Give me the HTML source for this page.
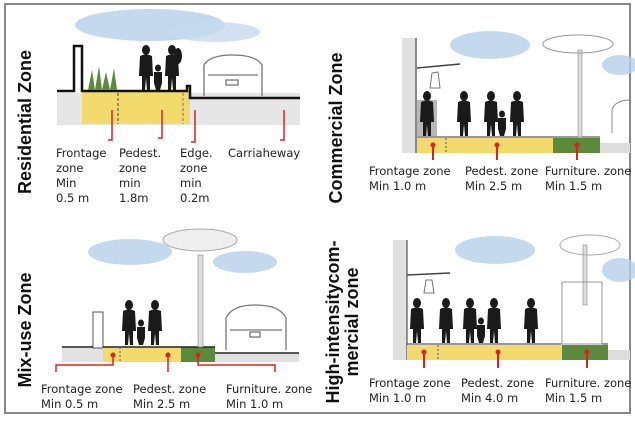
<!DOCTYPE html>
<html><head><meta charset="utf-8"><style>
html,body{margin:0;padding:0;background:#fff}
svg{display:block}
text{font-family:"DejaVu Sans","Liberation Sans",sans-serif;font-size:11.5px;fill:#222}
.t{font-family:"Liberation Sans",sans-serif;font-weight:bold;font-size:18px;fill:#111}
</style></head><body>
<svg width="635" height="423" viewBox="0 0 635 423" xmlns="http://www.w3.org/2000/svg">
<defs>
<g id="p1"><ellipse cx="0" cy="-40" rx="4" ry="5" fill="#1a1a1a"/><path d="M-6,-34 Q0,-37 6,-34 L7,-14 L4,-14 L4,0 L1,0 L0,-12 L-1,0 L-4,0 L-4,-14 L-7,-14 Z" fill="#1a1a1a"/></g>
<g id="kid"><ellipse cx="0" cy="-22" rx="3" ry="3.5" fill="#1a1a1a"/><path d="M-4,-18 L4,-18 L4,-7 L2,0 L-2,0 L-4,-7 Z" fill="#1a1a1a"/></g>
</defs>
<rect x="5" y="4" width="625" height="409" fill="none" stroke="#888" stroke-width="2"/>

<!-- TL Residential -->
<ellipse cx="150" cy="25" rx="75" ry="16" fill="#b7d0ea" opacity="0.8"/>
<ellipse cx="215" cy="32" rx="45" ry="10" fill="#c6daee" opacity="0.8"/>
<rect x="57" y="93" width="243" height="32" fill="#e6e6e6"/>
<rect x="82" y="92" width="108" height="32" fill="#f3da6c"/>
<line x1="118" y1="93" x2="118" y2="124" stroke="#444" stroke-dasharray="3,2"/>
<line x1="183" y1="93" x2="183" y2="124" stroke="#777" stroke-dasharray="3,2"/>
<polyline points="57,91 74,91 74,46 82,46 82,91 187,91 187,86 190,86 190,98 300,98" fill="none" stroke="#111" stroke-width="2.5"/>
<g fill="#5d8a3c"><path d="M88,90 L92,70 L95,90 L99,66 L102,90 L106,72 L110,90 L114,68 L117,90 Z"/></g>
<use href="#p1" x="146" y="90"/><use href="#kid" x="158" y="90"/><use href="#p1" x="172" y="90" transform="scale(1)"/>
<ellipse cx="178" cy="56" rx="4" ry="8" fill="#1a1a1a"/>
<g fill="none" stroke="#777" stroke-width="1.3"><path d="M204,96 L204,65 Q210,55 232,55 Q256,55 262,65 L262,96"/><path d="M208,75 L258,75"/><rect x="226" y="80" width="12" height="5"/></g>
<g stroke="#e02020" stroke-width="1.5" fill="none"><polyline points="112,110 112,140 108,140"/><polyline points="162,110 162,138 158,138"/><polyline points="195,110 195,142 191,142"/><polyline points="284,110 284,140 280,140"/></g>
<text x="56" y="157">Frontage</text><text x="56" y="172">zone</text><text x="56" y="187">Min</text><text x="56" y="202">0.5 m</text>
<text x="119" y="157">Pedest.</text><text x="119" y="172">zone</text><text x="119" y="187">min</text><text x="119" y="202">1.8m</text>
<text x="180" y="157">Edge.</text><text x="180" y="172">zone</text><text x="180" y="187">min</text><text x="180" y="202">0.2m</text>
<text x="228" y="157">Carriaheway</text>
<text class="t" transform="translate(31,122) rotate(-90)" text-anchor="middle">Residential Zone</text>

<!-- TR Commercial -->
<ellipse cx="490" cy="45" rx="40" ry="14" fill="#b7d0ea" opacity="0.8"/>
<ellipse cx="620" cy="65" rx="18" ry="10" fill="#b7d0ea" opacity="0.8"/>
<rect x="402" y="38" width="15" height="115" fill="#e0e0e0"/>
<line x1="416" y1="38" x2="416" y2="153" stroke="#333"/>
<rect x="417" y="138" width="136" height="15" fill="#f3da6c"/>
<rect x="553" y="138" width="47" height="15" fill="#5b8a3a"/>
<rect x="600" y="143" width="30" height="10" fill="#ddd"/>
<line x1="417" y1="137" x2="600" y2="137" stroke="#333"/>
<line x1="446" y1="138" x2="446" y2="153" stroke="#555" stroke-dasharray="2,2"/>
<line x1="417" y1="68" x2="460" y2="64" stroke="#444" stroke-width="1.5"/>
<path d="M432,73 L438,72 L440,88 L430,88 Z" fill="none" stroke="#777"/>
<rect x="578" y="50" width="4" height="87" fill="#ddd" stroke="#888" stroke-width="0.6"/>
<ellipse cx="578" cy="44" rx="35" ry="9" fill="none" stroke="#999"/>
<path d="M415,100 L437,100 L437,136 L415,136 Z" fill="#888" opacity="0.6"/>
<use href="#p1" x="427" y="136"/><use href="#p1" x="464" y="136"/><use href="#p1" x="491" y="136"/><use href="#kid" x="502" y="136"/><use href="#p1" x="517" y="136"/>
<g stroke="#888" fill="none"><path d="M612,133 L612,110 Q615,100 630,100"/></g>
<g stroke="#e02020" stroke-width="2"><line x1="433" y1="144" x2="433" y2="160"/><line x1="497" y1="144" x2="497" y2="160"/><line x1="577" y1="144" x2="577" y2="160"/></g>
<g fill="#e02020"><circle cx="433" cy="145" r="2.5"/><circle cx="497" cy="145" r="2.5"/><circle cx="577" cy="145" r="2.5"/></g>
<text x="369" y="175">Frontage zone</text><text x="369" y="190">Min 1.0 m</text>
<text x="465" y="175">Pedest. zone</text><text x="465" y="190">Min 2.5 m</text>
<text x="545" y="175">Furniture. zone</text><text x="545" y="190">Min 1.5 m</text>
<text class="t" transform="translate(342,128) rotate(-90)" text-anchor="middle">Commercial Zone</text>

<!-- BL Mix-use -->
<ellipse cx="130" cy="252" rx="42" ry="13" fill="#b7d0ea" opacity="0.8"/>
<ellipse cx="245" cy="262" rx="32" ry="11" fill="#b7d0ea" opacity="0.8"/>
<rect x="62" y="348" width="41" height="14" fill="#e2e2e2"/>
<rect x="93" y="312" width="10" height="36" fill="#fff" stroke="#555"/>
<rect x="103" y="347" width="78" height="15" fill="#f3da6c"/>
<rect x="181" y="347" width="34" height="15" fill="#5b8a3a"/>
<rect x="215" y="353" width="84" height="9" fill="#e0e0e0"/>
<polyline points="62,347 93,347" stroke="#222" stroke-width="1.5"/>
<line x1="103" y1="347" x2="215" y2="347" stroke="#222" stroke-width="1.5"/>
<line x1="215" y1="353" x2="299" y2="353" stroke="#222" stroke-width="1.5"/>
<line x1="120" y1="347" x2="120" y2="362" stroke="#555" stroke-dasharray="2,2"/>
<rect x="198" y="255" width="5" height="92" fill="#ddd" stroke="#888" stroke-width="0.6"/>
<ellipse cx="200" cy="240" rx="37" ry="11" fill="#eee" stroke="#aaa"/>
<use href="#p1" x="129" y="345"/><use href="#kid" x="141" y="345"/><use href="#p1" x="155" y="345"/>
<g fill="none" stroke="#777" stroke-width="1.3"><path d="M226,350 L226,318 Q232,305 255,305 Q280,305 286,318 L286,350"/><path d="M230,330 L282,330"/><rect x="250" y="332" width="10" height="5"/></g>
<g stroke="#e02020" stroke-width="1.5" fill="none"><polyline points="56,372 56,365 113,365 113,355"/><polyline points="168,355 168,372"/><polyline points="198,355 198,365 275,365 275,372"/></g>
<g fill="#e02020"><circle cx="113" cy="355" r="2.5"/><circle cx="168" cy="355" r="2.5"/><circle cx="198" cy="355" r="2.5"/></g>
<text x="41" y="393">Frontage zone</text><text x="41" y="408">Min 0.5 m</text>
<text x="133" y="393">Pedest. zone</text><text x="133" y="408">Min 2.5 m</text>
<text x="226" y="393">Furniture. zone</text><text x="226" y="408">Min 1.0 m</text>
<text class="t" transform="translate(31,330) rotate(-90)" text-anchor="middle">Mix-use Zone</text>

<!-- BR High-intensity -->
<ellipse cx="495" cy="250" rx="40" ry="14" fill="#b7d0ea" opacity="0.8"/>
<ellipse cx="620" cy="270" rx="18" ry="12" fill="#b7d0ea" opacity="0.8"/>
<rect x="393" y="240" width="14" height="120" fill="#e0e0e0"/>
<line x1="407" y1="240" x2="407" y2="360" stroke="#333"/>
<rect x="407" y="345" width="155" height="15" fill="#f3da6c"/>
<rect x="562" y="345" width="46" height="15" fill="#5b8a3a"/>
<rect x="608" y="350" width="22" height="10" fill="#ddd"/>
<line x1="407" y1="344" x2="608" y2="344" stroke="#333"/>
<line x1="438" y1="345" x2="438" y2="360" stroke="#555" stroke-dasharray="2,2"/>
<line x1="407" y1="275" x2="450" y2="273" stroke="#444" stroke-width="1.5"/>
<path d="M426,280 L432,280 L434,293 L424,293 Z" fill="none" stroke="#777"/>
<rect x="583" y="245" width="4" height="60" fill="#ddd" stroke="#888" stroke-width="0.6"/>
<ellipse cx="590" cy="245" rx="30" ry="10" fill="none" stroke="#aaa"/>
<rect x="562" y="282" width="40" height="62" fill="none" stroke="#999"/>
<use href="#p1" x="417" y="343"/><use href="#p1" x="446" y="343"/><use href="#p1" x="470" y="343"/><use href="#kid" x="481" y="343"/><use href="#p1" x="494" y="343"/><use href="#p1" x="531" y="343"/>
<g stroke="#e02020" stroke-width="2"><line x1="424" y1="351" x2="424" y2="368"/><line x1="498" y1="351" x2="498" y2="368"/><line x1="587" y1="351" x2="587" y2="368"/></g>
<g fill="#e02020"><circle cx="424" cy="352" r="2.5"/><circle cx="498" cy="352" r="2.5"/><circle cx="587" cy="352" r="2.5"/></g>
<text x="369" y="387">Frontage zone</text><text x="369" y="402">Min 1.0 m</text>
<text x="461" y="387">Pedest. zone</text><text x="461" y="402">Min 4.0 m</text>
<text x="545" y="387">Furniture. zone</text><text x="545" y="402">Min 1.5 m</text>
<text class="t" transform="translate(339,322) rotate(-90)" text-anchor="middle">High-intensitycom-</text>
<text class="t" transform="translate(358,322) rotate(-90)" text-anchor="middle">mercial zone</text>
</svg>
</body></html>
